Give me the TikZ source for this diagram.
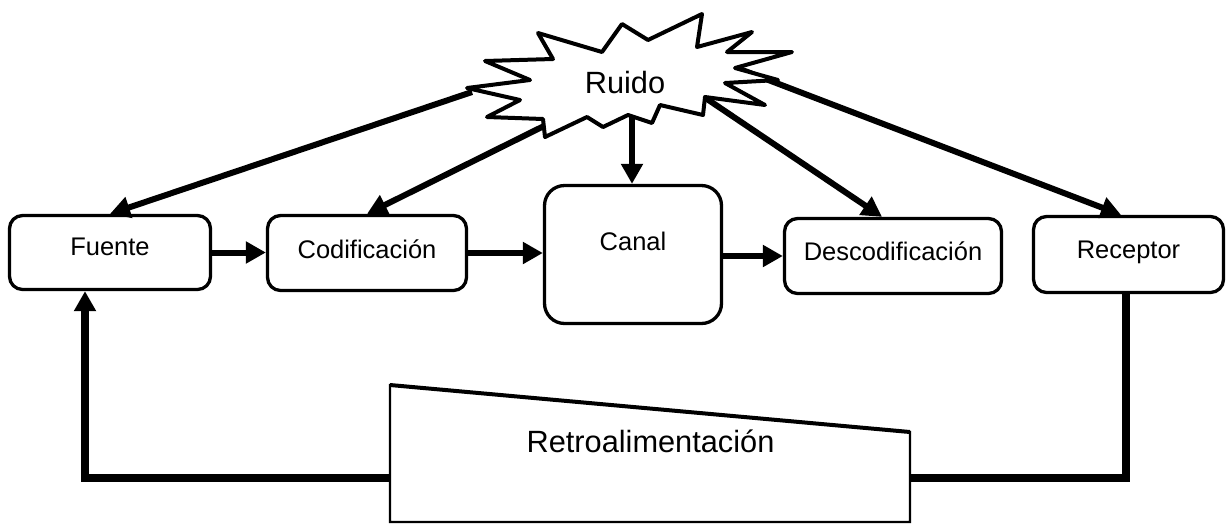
\documentclass[tikz,border=0pt]{standalone}
\usepackage{fontspec}
\setmainfont{Liberation Sans}
\usetikzlibrary{arrows.meta}

\begin{document}
\begin{tikzpicture}[x=0.02cm, y=-0.02cm,
  bloque/.style={draw, fill=white, line width=0.066cm, rounded corners=0.26cm, inner sep=0pt,
    font=\fontsize{14.5}{17}\selectfont, text height=10.4pt},
  flecha/.style={line width=0.12cm, -{Triangle[length=0.4cm, width=0.42cm]}},
  linea/.style={line width=0.15cm},
  grande/.style={font=\fontsize{17.5}{21}\selectfont, anchor=base}]
\useasboundingbox (0,0) rectangle (1229,525);

% Blocks of the chain
\node[bloque, minimum width=4.02cm, minimum height=1.48cm, text depth=7.4pt] (fuente) at (110,252.5) {Fuente};
\node[bloque, minimum width=3.98cm, minimum height=1.5cm, text depth=4.6pt] (codif) at (367,253) {Codificación};
\node[bloque, minimum width=3.54cm, minimum height=2.76cm, text depth=15.4pt, rounded corners=0.4cm] (canal) at (633,254.5) {Canal};
\node[bloque, minimum width=4.34cm, minimum height=1.5cm, text depth=5.1pt] (descod) at (893,256) {Descodificación};
\node[bloque, minimum width=3.8cm, minimum height=1.52cm, text depth=6.3pt] (receptor) at (1128.5,254.5) {Receptor};

% Arrows along the chain
\draw[flecha] (fuente.east) -- (fuente.east -| codif.west);
\draw[flecha] (codif.east) -- (codif.east -| canal.west);
\draw[flecha] (descod.west -| canal.east) -- (descod.west);

% Noise arrows
\coordinate (sF) at (472,92);
\coordinate (sC) at (548,124);
\coordinate (sK) at (632,116);
\coordinate (sD) at (704,97);
\coordinate (sR) at (737,68);
\draw[flecha] (sF) -- (fuente.north);
\draw[flecha] (sC) -- (codif.north);
\draw[flecha] (sK) -- (canal.north -| sK);
\draw[flecha] (sD) -- ([xshift=-0.22cm]descod.north);
\draw[flecha] (sR) -- ([xshift=-0.15cm]receptor.north);

% Noise star
\draw[line width=0.08cm, line join=round, fill=white]
  (467,88) -- (530,80) -- (485,61) -- (553,59) -- (538,33) -- (602,52) -- (622,24)
  -- (648,40) -- (702,14) -- (697,47) -- (752,32) -- (727,52) -- (792,52) -- (735,68)
  -- (778,80) -- (725,83) -- (765,105) -- (705,97) -- (703,115) -- (660,105)
  -- (652,123) -- (628,115) -- (603,127) -- (587,117) -- (545,137) -- (543,119)
  -- (487,117) -- (520,100) -- cycle;
\node[grande] (ruido) at (625,93) {Ruido};

% Feedback
\coordinate (t1) at (390,385);
\coordinate (t2) at (910,432);
\coordinate (t3) at (910,522);
\coordinate (t4) at (390,522);
\coordinate (tizq) at (390,478);
\coordinate (tder) at (910,478);
\draw[linea] (receptor.south -| 1126,0) |- (tder);
\draw[linea, -{Triangle[length=0.4cm, width=0.42cm]}] (tizq) -| ([xshift=-0.5cm]fuente.south);
\draw[line width=0.045cm, fill=white] (t1) -- (t2) -- (t3) -- (t4) -- cycle;
\draw[line width=0.08cm] (t1) -- (t2);
\node[grande] (retro) at (650.5,452) {Retroalimentación};
\end{tikzpicture}
\end{document}
